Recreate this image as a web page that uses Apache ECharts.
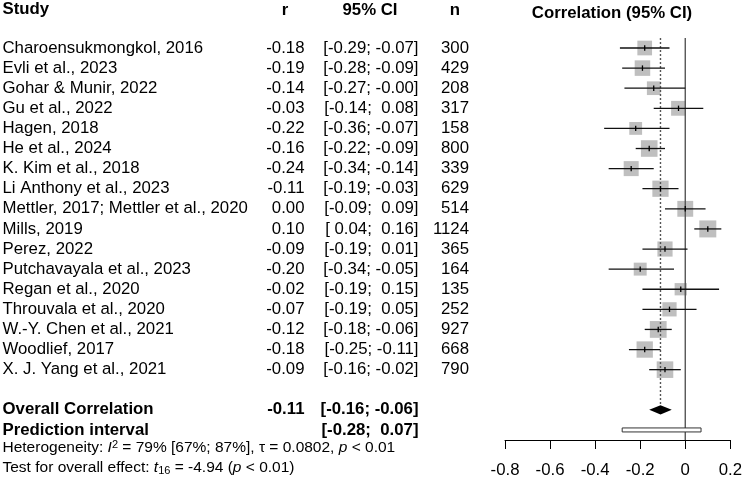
<!DOCTYPE html>
<html><head><meta charset="utf-8">
<script src="https://cdn.jsdelivr.net/npm/echarts@6/dist/echarts.min.js"></script>
<style>html,body{margin:0;padding:0;background:#fff}#c{width:745px;height:480px}</style>
</head><body><div id="c"></div>
<script>
// ---- data ----
const studies = ['Charoensukmongkol, 2016','Evli et al., 2023','Gohar & Munir, 2022','Gu et al., 2022','Hagen, 2018','He et al., 2024','K. Kim et al., 2018','Li Anthony et al., 2023','Mettler, 2017; Mettler et al., 2020','Mills, 2019','Perez, 2022','Putchavayala et al., 2023','Regan et al., 2020','Throuvala et al., 2020','W.-Y. Chen et al., 2021','Woodlief, 2017','X. J. Yang et al., 2021'];
const rVals  = [-0.18,-0.19,-0.14,-0.03,-0.22,-0.16,-0.24,-0.11, 0.00, 0.10,-0.09,-0.20,-0.02,-0.07,-0.12,-0.18,-0.09];
const ciLow  = [-0.29,-0.28,-0.27,-0.14,-0.36,-0.22,-0.34,-0.19,-0.09, 0.04,-0.19,-0.34,-0.19,-0.19,-0.18,-0.25,-0.16];
const ciHigh = [-0.07,-0.09,-0,    0.08,-0.07,-0.09,-0.14,-0.03, 0.09, 0.16, 0.01,-0.05, 0.15, 0.05,-0.06,-0.11,-0.02];
const nVals  = [300,429,208,317,158,800,339,629,514,1124,365,164,135,252,927,668,790];
const overallEst = -0.11, overallLo = -0.16, overallHi = -0.06;
const predLo = -0.28, predHi = 0.07;
const tau = 0.0802;
const xTickLabels = ['-0.8','-0.6','-0.4','-0.2','0','0.2'];
const hetText = '{a|Heterogeneity: }{i|I}{sup|2}{a| = 79% [67%; 87%], τ = 0.0802, }{i|p}{a| < 0.01}';
const testText = '{a|Test for overall effect: }{i|t}{sub|16}{a| = -4.94 (}{i|p}{a| < 0.01)}';

// ---- helpers ----
const FONT = '"Liberation Sans", Arial, sans-serif';
const FS = 16.8;
const overallRow = 18, predRow = 19;
function fmt(v){ return (v < 0 || Object.is(v,-0)) ? '-' + Math.abs(v).toFixed(2) : ' ' + v.toFixed(2); }
function ciStr(lo,hi){ return '[' + fmt(lo) + '; ' + fmt(hi) + ']'; }
const wOf = n => 1 / (1/(n-3) + tau*tau);
const wMax = Math.max(...nVals.map(wOf));
const sqSize = n => 17 * Math.sqrt(wOf(n)/wMax);

const tblNames = studies.concat(['Overall Correlation','Prediction interval']);
const tblR = rVals.map(v => fmt(v).trim()).concat([fmt(overallEst).trim(), '']);
const tblCI = rVals.map((v,i) => ciStr(ciLow[i], ciHigh[i])).concat([ciStr(overallLo, overallHi), ciStr(predLo, predHi)]);
const tblN = nVals.map(String).concat(['','']);
const tblRows = studies.map((s,i) => i).concat([overallRow, predRow]);
const tblBold = studies.map(() => false).concat([true, true]);

const chart = echarts.init(document.getElementById('c'));

function txt(text, x, y, align, bold, size){
  return {type:'text', style:{text:text, x:x, y:y, fill:'#000', align:align, verticalAlign:'middle',
    font:(bold?'bold ':'') + (size||FS) + 'px ' + FONT}};
}

const option = {
  animation:false,
  grid:{left:505, right:12.7, top:7.8, bottom:40},
  xAxis:{type:'value', min:-0.8, max:0.2, interval:0.2,
    axisLine:{show:true, onZero:false, lineStyle:{color:'#000', width:1}},
    axisTick:{show:true, length:9, inside:false, lineStyle:{color:'#000', width:1}},
    splitLine:{show:false},
    axisLabel:{margin:22, color:'#000', fontSize:FS, fontFamily:FONT,
      formatter:(v) => { const k = Math.round((v + 0.8)/0.2); return xTickLabels[k] !== undefined ? xTickLabels[k] : ''; }}
  },
  yAxis:{type:'value', inverse:true, min:-2, max:19.5, show:false},
  series:[
    { // squares
      type:'custom', silent:true, z:2,
      data: rVals.map((v,i) => [v, i, nVals[i]]),
      encode:{x:0, y:1},
      renderItem:(params, api) => {
        const p = api.coord([api.value(0), api.value(1)]);
        const s = sqSize(api.value(2));
        return {type:'rect', shape:{x:p[0]-s/2, y:p[1]-s/2, width:s, height:s}, style:{fill:'#bfbfbf'}};
      }
    },
    { // reference lines
      type:'custom', silent:true, z:3,
      data:[[0, -0.5, 19.5, 0], [overallEst, -0.5, 17.75, 1]],
      encode:{x:0, y:[1,2]},
      renderItem:(params, api) => {
        const a = api.coord([api.value(0), api.value(1)]);
        const b = api.coord([api.value(0), api.value(2)]);
        const dotted = api.value(3) === 1;
        return {type:'line', shape:{x1:a[0], y1:a[1], x2:b[0], y2:b[1]},
          style:{stroke:'#555', lineWidth:1.4, lineDash: dotted ? [2,2] : null}};
      }
    },
    { // CI lines + estimate ticks
      type:'custom', silent:true, z:4,
      data: rVals.map((v,i) => [v, i, ciLow[i], ciHigh[i]]),
      encode:{x:[0,2,3], y:1},
      renderItem:(params, api) => {
        const row = api.value(1);
        const p = api.coord([api.value(0), row]);
        const pl = api.coord([api.value(2), row]);
        const ph = api.coord([api.value(3), row]);
        return {type:'group', children:[
          {type:'line', shape:{x1:pl[0], y1:p[1], x2:ph[0], y2:p[1]}, style:{stroke:'#111', lineWidth:1.3}},
          {type:'line', shape:{x1:p[0], y1:p[1]-2.7, x2:p[0], y2:p[1]+2.7}, style:{stroke:'#000', lineWidth:1.3}}
        ]};
      }
    },
    { // overall diamond
      type:'custom', silent:true, z:4,
      data:[[overallEst, overallRow, overallLo, overallHi]],
      encode:{x:[0,2,3], y:1},
      renderItem:(params, api) => {
        const row = api.value(1);
        const c = api.coord([api.value(0), row]);
        const l = api.coord([api.value(2), row]);
        const r = api.coord([api.value(3), row]);
        const h = 4.6;
        return {type:'polygon', shape:{points:[[l[0],c[1]],[c[0],c[1]-h],[r[0],c[1]],[c[0],c[1]+h]]}, style:{fill:'#000'}};
      }
    },
    { // prediction interval
      type:'custom', silent:true, z:4,
      data:[[predLo, predRow, predHi]],
      encode:{x:[0,2], y:1},
      renderItem:(params, api) => {
        const row = api.value(1);
        const l = api.coord([api.value(0), row]);
        const r = api.coord([api.value(2), row]);
        return {type:'rect', shape:{x:l[0], y:l[1]-2, width:r[0]-l[0], height:4}, style:{fill:'#fff', stroke:'#333', lineWidth:1}};
      }
    },
    { // table text
      type:'custom', silent:true, z:5,
      data: tblRows.map(r => [0, r]),
      encode:{x:0, y:1},
      renderItem:(params, api) => {
        const k = params.dataIndex;
        const y = api.coord([0, api.value(1)])[1];
        const b = tblBold[k];
        return {type:'group', children:[
          txt(tblNames[k], 2.5, y, 'left', b),
          txt(tblR[k], 304.5, y, 'right', b),
          txt(tblCI[k], 418.5, y, 'right', b),
          txt(tblN[k], 469, y, 'right', b)
        ]};
      }
    }
  ],
  graphic:[
    {type:'text', left:2.5, top:1, style:{text:'Study', font:'bold '+FS+'px '+FONT, fill:'#000'}},
    {type:'text', x:285, y:10, style:{text:'r', font:'bold '+FS+'px '+FONT, fill:'#000', align:'center', verticalAlign:'middle'}},
    {type:'text', x:370, y:10, style:{text:'95% CI', font:'bold '+FS+'px '+FONT, fill:'#000', align:'center', verticalAlign:'middle'}},
    {type:'text', x:455, y:10, style:{text:'n', font:'bold '+FS+'px '+FONT, fill:'#000', align:'center', verticalAlign:'middle'}},
    {type:'text', x:612, y:13, style:{text:'Correlation (95% CI)', font:'bold '+FS+'px '+FONT, fill:'#000', align:'center', verticalAlign:'middle'}},
    {type:'text', x:2.5, y:448, style:{text:hetText, fill:'#000', align:'left', verticalAlign:'middle',
      rich:{a:{fontSize:15.5, fontFamily:FONT, lineHeight:18},
            i:{fontSize:15.5, fontFamily:FONT, fontStyle:'italic', lineHeight:18},
            sup:{fontSize:11, fontFamily:FONT, verticalAlign:'top', lineHeight:18, padding:[0,0,6,0]}}}},
    {type:'text', x:2.5, y:467.5, style:{text:testText, fill:'#000', align:'left', verticalAlign:'middle',
      rich:{a:{fontSize:15.5, fontFamily:FONT, lineHeight:18},
            i:{fontSize:15.5, fontFamily:FONT, fontStyle:'italic', lineHeight:18},
            sub:{fontSize:11, fontFamily:FONT, verticalAlign:'bottom', lineHeight:18}}}}
  ]
};
chart.setOption(option);
</script>
</body></html>
